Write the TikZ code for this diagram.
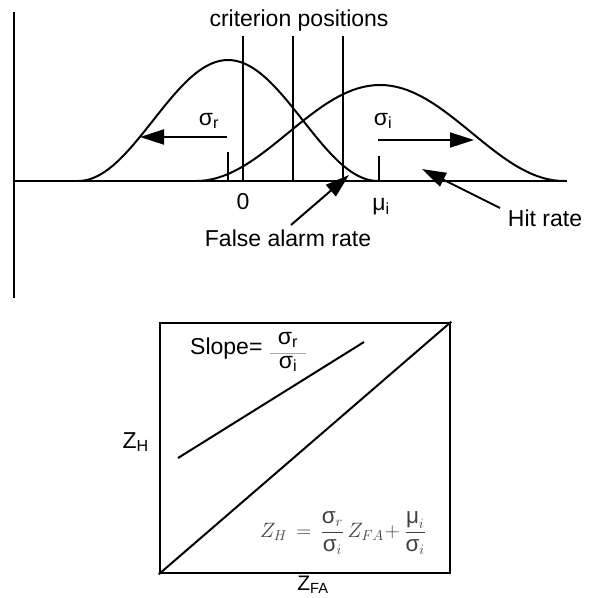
\documentclass[tikz,border=0pt]{standalone}
\usepackage{fontspec}
\setmainfont{Liberation Sans}
\usetikzlibrary{arrows.meta}

\begin{document}
\begin{tikzpicture}[x=1pt, y=-1pt,
  curve/.style={line width=2pt},
  thinline/.style={line width=1.1pt},
  bigarrow/.style={line width=2pt, -{Triangle[length=24pt,width=15pt]}},
  lbl/.style={font=\fontsize{23}{27}\selectfont, inner sep=0pt},
  eq/.style={font=\fontsize{22.5}{27}\selectfont, inner sep=0pt, text=black!75}]
\useasboundingbox (0,0) rectangle (596,598);

% upper panel: axes
\coordinate (axtop) at (14,12);
\coordinate (axbot) at (14,298);
\coordinate (base0) at (14,181);
\coordinate (base1) at (567,181);
\draw[thinline] (axtop) -- (axbot);
\draw[curve] (base0) -- (base1);

% the two distributions
\draw[curve] plot[domain=-150:150, samples=90, variable=\d]
  ({228+\d}, {181-121*(1+cos(1.2*\d))/2});
\draw[curve] plot[domain=-184:184, samples=110, variable=\d]
  ({380+\d}, {181-96*(1+cos(0.97826*\d))/2});

% criterion positions
\foreach \x/\n in {243/a,293/b,343/c}{
  \coordinate (crit\n top) at (\x,36);
  \coordinate (crit\n bot) at (\x,181);
  \draw[curve] (crit\n top) -- (crit\n bot);
}
\node[lbl] (critlbl) at (299,21) {criterion positions};

% means
\coordinate (mur top) at (228,152);
\coordinate (mur bot) at (228,181);
\coordinate (mui top) at (379,156);
\coordinate (mui bot) at (379,181);
\draw[curve] (mur top) -- (mur bot);
\draw[curve] (mui top) -- (mui bot);
\node[lbl] (zero) at (243,202) {0};
\node[lbl] (mui) at (381,207) {μ\textsubscript{i}};

% spreads
\coordinate (sr0) at (227,137);
\coordinate (sr1) at (140,137);
\coordinate (si0) at (378,140);
\coordinate (si1) at (474,140);
\draw[bigarrow] (sr0) -- (sr1);
\draw[bigarrow] (si0) -- (si1);
\node[lbl] (sigr) at (209,121) {σ\textsubscript{r}};
\node[lbl] (sigi) at (383,121) {σ\textsubscript{i}};

% rates
\node[lbl] (fa) at (288,238) {False alarm rate};
\node[lbl] (hit) at (545,218) {Hit rate};
\coordinate (fatip) at (349,175);
\coordinate (hittip) at (422,169);
\coordinate (fatail) at (291,225);
\coordinate (hittail) at (500,208);
\draw[bigarrow] (fatail) -- (fatip);
\draw[bigarrow] (hittail) -- (hittip);

% lower panel: ROC in z coordinates
\node[draw, line width=2.6pt, minimum width=290pt, minimum height=250pt,
  inner sep=0pt] (roc) at (305,448) {};
\draw[curve] (roc.south west) -- (roc.north east);
\coordinate (slope0) at (178,458);
\coordinate (slope1) at (364,342);
\draw[curve] (slope0) -- (slope1);
\node[lbl, anchor=west] (slope) at (190,349) {Slope=};
\node[lbl] (snum) at (288,340) {σ\textsubscript{r}};
\node[lbl] (sden) at (288,364) {σ\textsubscript{i}};
\coordinate (sbar0) at (270,353);
\coordinate (sbar1) at (306,353);
\draw[black!35, line width=0.8pt] (sbar0) -- (sbar1);
\node[eq] (eqn) at (343,533)
  {$\displaystyle Z_H\, = \,\frac{\mbox{σ}_r}{\mbox{σ}_i}\,Z_{FA}\!+\frac{\mbox{μ}_i}{\mbox{σ}_i}$};
\node[lbl, anchor=east] (zh) at (149,442) {Z\textsubscript{H}};
\node[lbl, anchor=south, font=\fontsize{21}{25}\selectfont] (zfa) at (313,594) {Z\textsubscript{FA}};
\end{tikzpicture}
\end{document}
